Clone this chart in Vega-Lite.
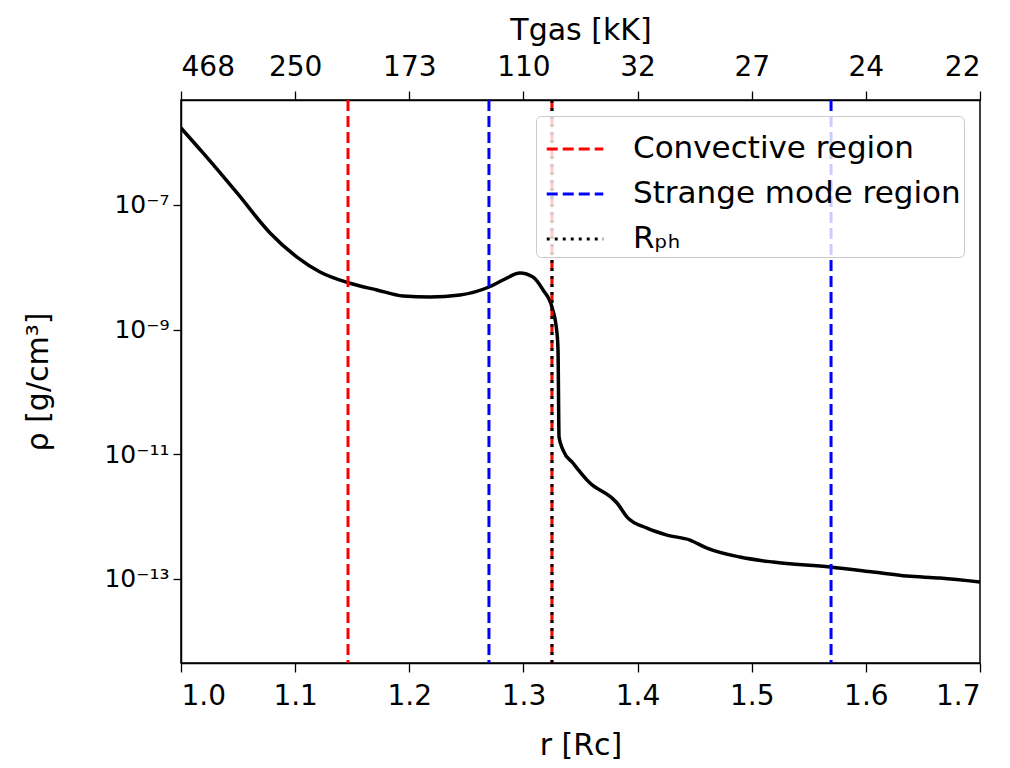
{
  "$schema": "https://vega.github.io/schema/vega-lite/v6.json",
  "autosize": {"type": "none"},
  "padding": {"left": 181, "top": 100, "right": 30, "bottom": 105},
  "width": 799,
  "height": 563,
  "background": "white",
  "config": {
    "font": "DejaVu Sans",
    "view": {"stroke": "black", "strokeWidth": 1.5},
    "axis": {
      "domainColor": "black", "domainWidth": 1.5, "tickColor": "black", "tickWidth": 1.3, "tickSize": 9,
      "labelColor": "black", "titleColor": "black", "labelFont": "DejaVu Sans", "titleFont": "DejaVu Sans",
      "labelFontSize": 25, "titleFontSize": 30, "titleFontWeight": "normal", "grid": false, "labelPadding": 8
    }
  },
  "layer": [
    {
      "data": {"values": [
        {"r": 1.0, "rho": 1.72e-6},
        {"r": 1.0193, "rho": 6.84e-7},
        {"r": 1.0491, "rho": 1.56e-7},
        {"r": 1.078, "rho": 3.56e-8},
        {"r": 1.1016, "rho": 1.46e-8},
        {"r": 1.1218, "rho": 8.41e-9},
        {"r": 1.1472, "rho": 5.60e-9},
        {"r": 1.1717, "rho": 4.33e-9},
        {"r": 1.1945, "rho": 3.46e-9},
        {"r": 1.2182, "rho": 3.33e-9},
        {"r": 1.2444, "rho": 3.59e-9},
        {"r": 1.2698, "rho": 4.83e-9},
        {"r": 1.2821, "rho": 6.25e-9},
        {"r": 1.297, "rho": 8.11e-9},
        {"r": 1.3084, "rho": 6.98e-9},
        {"r": 1.3172, "rho": 4.33e-9},
        {"r": 1.325, "rho": 2.31e-9},
        {"r": 1.3294, "rho": 8.81e-10},
        {"r": 1.3303, "rho": 4.71e-10},
        {"r": 1.3312, "rho": 1.89e-11},
        {"r": 1.3347, "rho": 1.17e-11},
        {"r": 1.3434, "rho": 7.23e-12},
        {"r": 1.3583, "rho": 3.45e-12},
        {"r": 1.3776, "rho": 1.98e-12},
        {"r": 1.382, "rho": 1.65e-12},
        {"r": 1.3908, "rho": 9.82e-13},
        {"r": 1.4083, "rho": 6.53e-13},
        {"r": 1.4258, "rho": 5.05e-13},
        {"r": 1.4459, "rho": 4.20e-13},
        {"r": 1.4608, "rho": 3.12e-13},
        {"r": 1.4897, "rho": 2.24e-13},
        {"r": 1.5187, "rho": 1.86e-13},
        {"r": 1.5686, "rho": 1.55e-13},
        {"r": 1.6063, "rho": 1.29e-13},
        {"r": 1.636, "rho": 1.11e-13},
        {"r": 1.665, "rho": 1.03e-13},
        {"r": 1.7, "rho": 8.89e-14}
      ]},
      "mark": {"type": "line", "color": "black", "strokeWidth": 3.5, "interpolate": "monotone", "clip": true},
      "encoding": {
        "x": {
          "field": "r", "type": "quantitative",
          "scale": {"domain": [1.0, 1.7], "nice": false, "zero": false},
          "axis": {
            "orient": "bottom", "title": "r [Rc]", "values": [1.0, 1.1, 1.2, 1.3, 1.4, 1.5, 1.6, 1.7],
            "format": ".1f", "labelFontSize": 28, "titleFontSize": 30, "labelPadding": 10, "titlePadding": 20
          }
        },
        "y": {
          "field": "rho", "type": "quantitative",
          "scale": {"type": "log", "domain": [4.47e-15, 4.84e-6], "nice": false},
          "axis": {
            "title": "ρ [g/cm³]", "values": [1e-7, 1e-9, 1e-11, 1e-13],
            "labelExpr": "datum.value < 5e-13 ? '10⁻¹³' : datum.value < 5e-11 ? '10⁻¹¹' : datum.value < 5e-9 ? '10⁻⁹' : '10⁻⁷'",
            "labelFontSize": 25, "titleFontSize": 30, "tickSize": 8, "labelPadding": 4, "titlePadding": 50
          }
        }
      }
    },
    {
      "data": {"values": [
        {"r": 1.1463, "kind": "Convective region"},
        {"r": 1.325, "kind": "Convective region"},
        {"r": 1.2698, "kind": "Strange mode region"},
        {"r": 1.5695, "kind": "Strange mode region"},
        {"r": 1.325, "kind": "Rₚₕ"}
      ]},
      "mark": {"type": "rule", "strokeWidth": 3},
      "encoding": {
        "x": {
          "field": "r", "type": "quantitative",
          "axis": {
            "orient": "top", "title": "Tgas [kK]", "values": [1.0, 1.1, 1.2, 1.3, 1.4, 1.5, 1.6, 1.7],
            "labelExpr": "datum.value < 1.05 ? '468' : datum.value < 1.15 ? '250' : datum.value < 1.25 ? '173' : datum.value < 1.35 ? '110' : datum.value < 1.45 ? '32' : datum.value < 1.55 ? '27' : datum.value < 1.65 ? '24' : '22'",
            "labelFontSize": 28, "titleFontSize": 30, "labelPadding": 10, "titlePadding": 8
          }
        },
        "color": {
          "field": "kind", "type": "nominal",
          "scale": {"domain": ["Convective region", "Strange mode region", "Rₚₕ"], "range": ["#ff0000", "#0000ff", "#000000"]},
          "legend": {
            "title": null, "orient": "top-right", "offset": 16, "symbolType": "stroke", "symbolSize": 3200,
            "symbolStrokeWidth": 3, "symbolOffset": 6, "labelFontSize": 31, "labelFont": "DejaVu Sans", "labelColor": "black",
            "labelLimit": 500, "rowPadding": -11, "fillColor": "rgba(255,255,255,0.8)", "strokeColor": "#cccccc",
            "cornerRadius": 5, "padding": 3, "labelOffset": 28
          }
        },
        "strokeDash": {
          "field": "kind", "type": "nominal",
          "scale": {"domain": ["Convective region", "Strange mode region", "Rₚₕ"], "range": [[11, 5], [11, 5], [3, 5]]},
          "legend": null
        },
        "order": {"field": "kind", "sort": "ascending"}
      }
    }
  ],
  "resolve": {"axis": {"x": "independent"}}
}
